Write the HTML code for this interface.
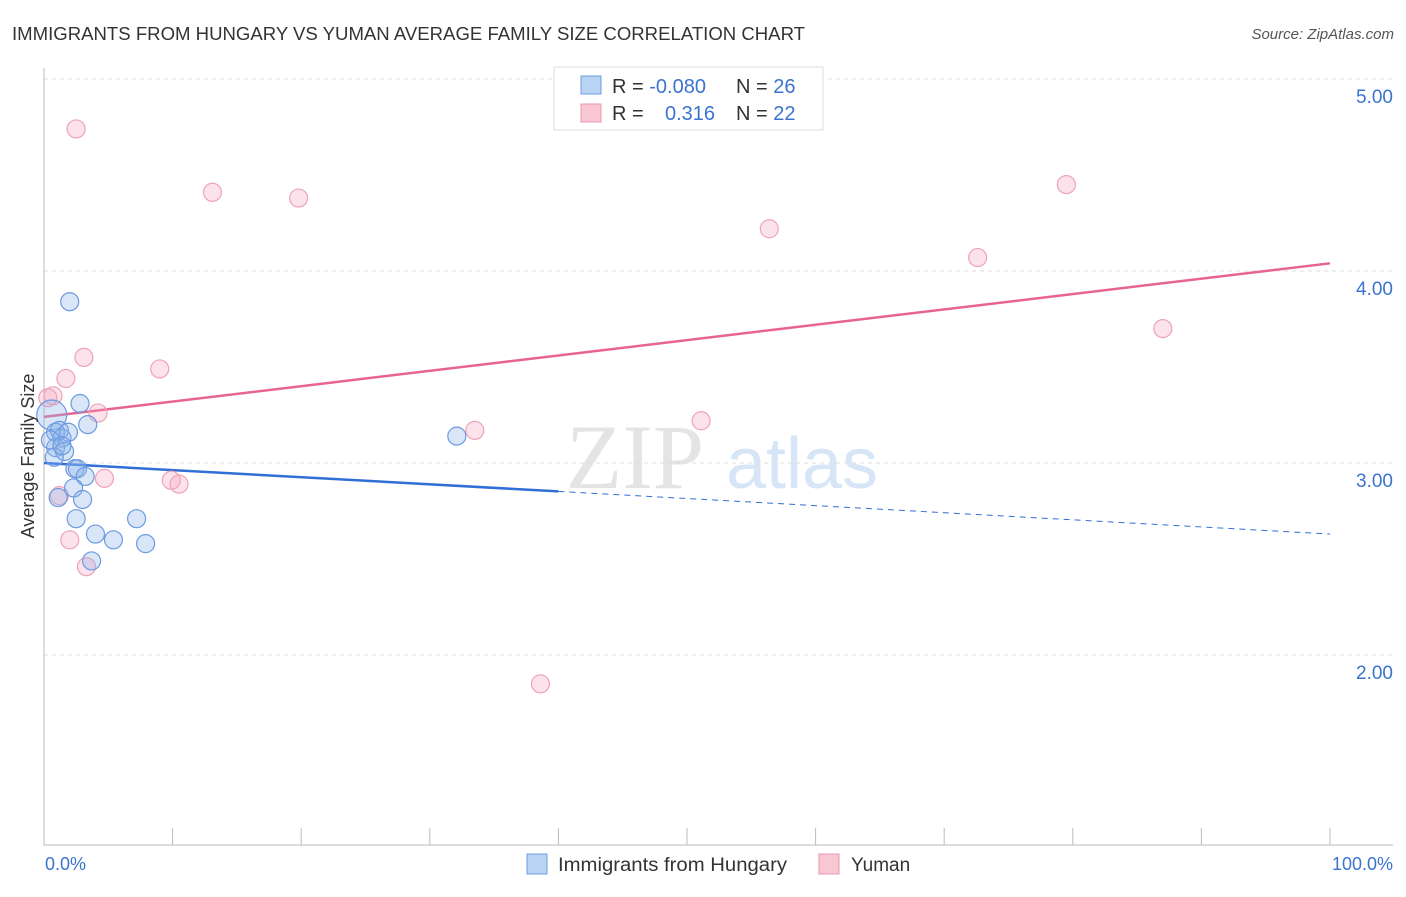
<!DOCTYPE html>
<html><head><meta charset="utf-8"><style>
body{margin:0;background:#fff;font-family:"Liberation Sans",sans-serif;}
</style></head><body>
<svg id="chart" width="1406" height="892" xmlns="http://www.w3.org/2000/svg" style="font-family:'Liberation Sans',sans-serif">
<text x="12" y="40" font-size="18" fill="#333" textLength="793" lengthAdjust="spacingAndGlyphs">IMMIGRANTS FROM HUNGARY VS YUMAN AVERAGE FAMILY SIZE CORRELATION CHART</text>
<text x="1394" y="39" font-size="15" fill="#555" font-style="italic" text-anchor="end">Source: ZipAtlas.com</text>
<g>
<text x="635" y="488" font-size="92" fill="#e4e4e4" font-family="Liberation Serif,serif" text-anchor="middle">ZIP</text>
<text x="802" y="488" font-size="72" fill="#d6e6f6" text-anchor="middle">atlas</text>
</g>
<g id="grid"></g><g id="axes"></g><g id="lines"></g><g id="points"></g>
<text transform="translate(34,456) rotate(-90)" font-size="18" fill="#333" text-anchor="middle">Average Family Size</text>
<text x="45" y="870" font-size="18" fill="#3b74d0">0.0%</text>
<text x="1393" y="870" font-size="18" fill="#3b74d0" text-anchor="end">100.0%</text>
<g>
<rect x="554" y="67" width="269" height="63" fill="#fff" stroke="#ddd"/>
<rect x="581" y="76" width="20" height="18" fill="#b9d3f5" stroke="#6d9de0"/>
<rect x="581" y="104" width="20" height="18" fill="#f9c6d3" stroke="#eb97ad"/>
<text x="612" y="93" font-size="20" fill="#333">R = <tspan fill="#3b74d0">-0.080</tspan></text>
<text x="736" y="93" font-size="20" fill="#333">N = <tspan fill="#3b74d0">26</tspan></text>
<text x="612" y="120" font-size="20" fill="#333">R = </text>
<text x="665" y="120" font-size="20" fill="#3b74d0">0.316</text>
<text x="736" y="120" font-size="20" fill="#333">N = <tspan fill="#3b74d0">22</tspan></text>
</g>
<g>
<rect x="527" y="854" width="20" height="20" fill="#b9d3f5" stroke="#6d9de0"/>
<text x="558" y="871" font-size="19" fill="#333" textLength="229" lengthAdjust="spacingAndGlyphs">Immigrants from Hungary</text>
<rect x="819" y="854" width="20" height="20" fill="#f9c6d3" stroke="#eb97ad"/>
<text x="851" y="871" font-size="19" fill="#333">Yuman</text>
</g>
</svg>
<script>
const yTicks=[2,3,4,5];
const yTickLabels=["2.00","3.00","4.00","5.00"];
const xTicks=[0,10,20,30,40,50,60,70,80,90,100];
const blueX=[2.0,2.8,3.4,0.6,0.9,1.2,1.4,1.9,0.9,1.6,0.8,2.4,2.6,3.2,2.3,1.1,3.0,2.5,4.0,5.4,7.2,7.9,3.7,32.1,0.5,1.4];
const blueY=[3.84,3.31,3.20,3.25,3.16,3.17,3.13,3.16,3.08,3.06,3.03,2.97,2.97,2.93,2.87,2.82,2.81,2.71,2.63,2.60,2.71,2.58,2.49,3.14,3.12,3.09];
const pinkX=[2.5,13.1,19.8,56.4,72.6,79.5,87.0,3.1,1.7,9.0,0.3,0.7,4.2,4.7,9.9,10.5,1.2,2.0,3.3,33.5,51.1,38.6];
const pinkY=[4.74,4.41,4.38,4.22,4.07,4.45,3.70,3.55,3.44,3.49,3.34,3.35,3.26,2.92,2.91,2.89,2.83,2.60,2.46,3.17,3.22,1.85];
const blueTrend=[3.00,2.63];
const pinkTrend=[3.24,4.04];
const blueSolidEnd=40;
const NS="http://www.w3.org/2000/svg";
const X=v=>44+v*12.86;
const Y=v=>79+(5-v)*192;
function mk(t,a,p){const e=document.createElementNS(NS,t);for(const k in a)e.setAttribute(k,a[k]);document.getElementById(p).appendChild(e);return e;}
yTicks.forEach((t,i)=>{
 const g=mk('line',{x1:44,x2:1393,y1:Y(t),y2:Y(t),stroke:'#ddd','stroke-dasharray':'4,4'},'grid');
 
 
 const l=mk('text',{x:1393,y:Y(t)+24,'font-size':19,fill:'#3b74d0','text-anchor':'end'},'grid');
 l.textContent=yTickLabels[i];
 
 
});
const ax=mk('line',{x1:44,x2:1393,y1:845,y2:845,stroke:'#bbb'},'axes');


const ay=mk('line',{x1:44,x2:44,y1:68,y2:845,stroke:'#bbb'},'axes');


xTicks.forEach(t=>{const e=mk('line',{x1:X(t),x2:X(t),y1:828,y2:845,stroke:'#bbb'},'axes');
 
 });
const bAt=x=>blueTrend[0]+(blueTrend[1]-blueTrend[0])*x/100;
let e=mk('line',{x1:X(0),y1:Y(pinkTrend[0]),x2:X(100),y2:Y(pinkTrend[1]),stroke:'#e8648f','stroke-width':2.5},'lines');


e=mk('line',{x1:X(0),y1:Y(bAt(0)),x2:X(blueSolidEnd),y2:Y(bAt(blueSolidEnd)),stroke:'#2f6fd6','stroke-width':2.5},'lines');


e=mk('line',{x1:X(blueSolidEnd),y1:Y(bAt(blueSolidEnd)),x2:X(100),y2:Y(bAt(100)),stroke:'#2f6fd6','stroke-width':1,'stroke-dasharray':'6,5'},'lines');


pinkX.forEach((v,i)=>{const c=mk('circle',{cx:X(v),cy:Y(pinkY[i]),r:9,fill:'rgba(244,160,185,0.3)',stroke:'#eea3b7','stroke-width':1.2},'points');
 
 });
blueX.forEach((v,i)=>{const c=mk('circle',{cx:X(v),cy:Y(blueY[i]),r:i==3?15:9,fill:'rgba(140,180,235,0.33)',stroke:'#6b9ae0','stroke-width':1.2},'points');
 
 });
</script>
</body></html>
